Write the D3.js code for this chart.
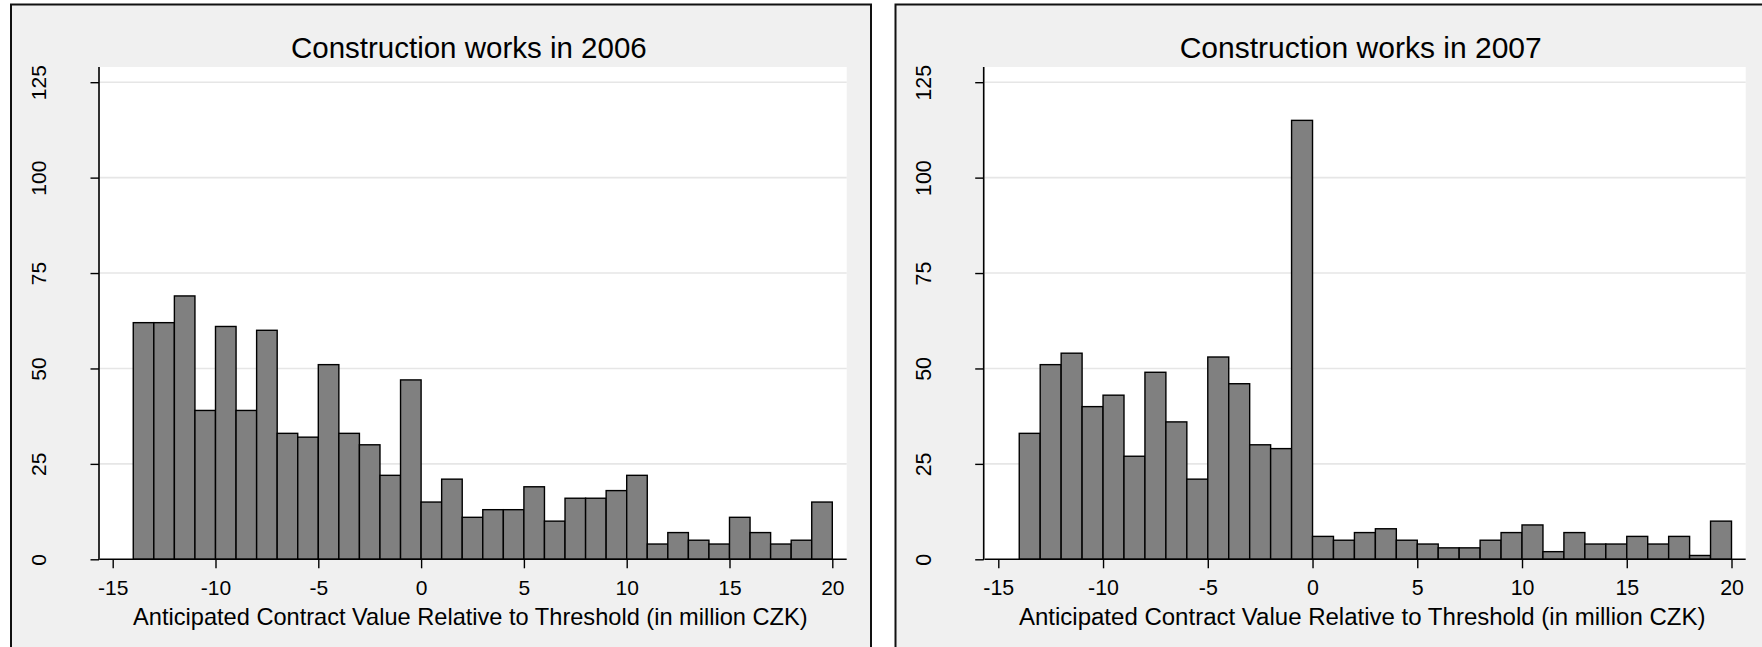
<!DOCTYPE html>
<html>
<head>
<meta charset="utf-8">
<script src="https://cdn.jsdelivr.net/npm/d3@7"></script>
<style>
  body { margin: 0; background: #fff; }
  svg { display: block; font-family: "Liberation Sans", Arial, sans-serif; }
</style>
</head>
<body>
<svg id="chart" width="1762" height="647"></svg>
<script>
// bin start (width 1, in million CZK)
var binStarts = [-14, -13, -12, -11, -10, -9, -8, -7, -6, -5, -4, -3, -2, -1,
                 0, 1, 2, 3, 4, 5, 6, 7, 8, 9, 10, 11, 12, 13, 14, 15, 16, 17, 18, 19]

var counts2006 = [62, 62, 69, 39, 61, 39, 60, 33, 32, 51, 33, 30, 22, 47,
                  15, 21, 11, 13, 13, 19, 10, 16, 16, 18, 22, 4, 7, 5, 4, 11, 7, 4, 5, 15]

var counts2007 = [33, 51, 54, 40, 43, 27, 49, 36, 21, 53, 46, 30, 29, 115,
                  6, 5, 7, 8, 5, 4, 3, 3, 5, 7, 9, 2, 7, 4, 4, 6, 4, 6, 1, 10]

var xTicks = [-15, -10, -5, 0, 5, 10, 15, 20]
var yTicks = [0, 25, 50, 75, 100, 125]

var titles = ['Construction works in 2006', 'Construction works in 2007']
var xLabel = 'Anticipated Contract Value Relative to Threshold (in million CZK)'

// panel layout in pixels
var panels = [
  { counts: counts2006, title: titles[0], box: [11, 4.5, 860, 700],
    plot: [100, 67, 846.7, 559.3], xr: [112.7, 832.3], k: 1 },
  { counts: counts2007, title: titles[1], box: [895.5, 4.5, 880, 700],
    plot: [984.7, 67, 1745.7, 559.3], xr: [998.3, 1731.5], k: 1.018 }
]

var svg = d3.select('#chart')
var plain = d => String(d)   // hyphen minus, like the original

panels.forEach(function (p) {
  var g = svg.append('g')
  var px0 = p.plot[0], py0 = p.plot[1], px1 = p.plot[2], py1 = p.plot[3]
  var cx = (px0 + px1) / 2

  var x = d3.scaleLinear().domain([-15, 20]).range(p.xr)
  var y = d3.scaleLinear().domain([0, 125]).range([py1, 82.2])

  // outer frame
  g.append('rect')
   .attr('x', p.box[0]).attr('y', p.box[1])
   .attr('width', p.box[2]).attr('height', p.box[3])
   .attr('fill', '#f0f0f0')
   .attr('stroke', '#111')
   .attr('stroke-width', 2)

  // plot region
  g.append('rect')
   .attr('x', px0).attr('y', py0)
   .attr('width', px1 - px0).attr('height', py1 - py0)
   .attr('fill', '#fff')

  // grid
  g.selectAll('.grid')
   .data(yTicks.filter(d => d > 0))
   .enter()
   .append('line')
   .attr('x1', px0).attr('x2', px1)
   .attr('y1', d => y(d)).attr('y2', d => y(d))
   .attr('stroke', '#e6e6e6')
   .attr('stroke-width', 1.6)

  // bars
  g.selectAll('.bar')
   .data(p.counts)
   .enter()
   .append('rect')
   .attr('class', 'bar')
   .attr('x', (d, i) => x(binStarts[i]))
   .attr('width', (d, i) => x(binStarts[i] + 1) - x(binStarts[i]))
   .attr('y', d => y(d))
   .attr('height', d => y(0) - y(d))
   .attr('fill', '#808080')
   .attr('stroke', '#000')
   .attr('stroke-width', 1.4)

  // x axis
  var xAxis = g.append('g')
   .attr('transform', `translate(0,${py1})`)
   .call(d3.axisBottom(x).tickValues(xTicks).tickSize(9).tickPadding(11.5).tickFormat(plain))
  xAxis.select('.domain').remove()
  xAxis.append('line')
   .attr('x1', px0).attr('x2', px1)
   .attr('stroke', '#000').attr('stroke-width', 1.6)
  xAxis.selectAll('.tick line').attr('stroke', '#000').attr('stroke-width', 1.4)
  xAxis.selectAll('.tick text')
   .attr('fill', '#000')
   .style('font-size', (21 * p.k) + 'px')
   .style('font-family', '"Liberation Sans", Arial, sans-serif')

  // y axis
  var yAxis = g.append('g')
   .attr('transform', `translate(${px0 - 1},0)`)
   .call(d3.axisLeft(y).tickValues(yTicks).tickSize(8.5).tickFormat(plain))
  yAxis.select('.domain').remove()
  yAxis.append('line')
   .attr('y1', py0).attr('y2', py1 + 0.8)
   .attr('stroke', '#000').attr('stroke-width', 1.6)
  yAxis.selectAll('.tick line').attr('stroke', '#000').attr('stroke-width', 1.4)
  yAxis.selectAll('.tick text')
   .attr('x', null).attr('dy', null)
   .attr('text-anchor', 'middle')
   .attr('transform', 'translate(-60,0) rotate(-90)')
   .attr('dy', '0.35em')
   .attr('fill', '#000')
   .style('font-size', (21 * p.k) + 'px')
   .style('font-family', '"Liberation Sans", Arial, sans-serif')

  // title
  g.append('text')
   .attr('x', cx - 4.5).attr('y', 57.5)
   .attr('text-anchor', 'middle')
   .style('font-size', (29.5 * p.k) + 'px')
   .attr('fill', '#000')
   .text(p.title)

  // x label
  g.append('text')
   .attr('x', cx - 3).attr('y', 625)
   .attr('text-anchor', 'middle')
   .style('font-size', (23.6 * p.k) + 'px')
   .attr('fill', '#000')
   .text(xLabel)
})
</script>
</body>
</html>
